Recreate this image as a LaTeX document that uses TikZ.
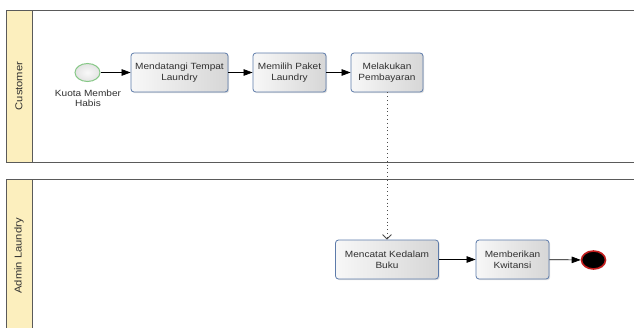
\documentclass[tikz,border=0pt]{standalone}
\usepackage{fontspec}
\setmainfont{Liberation Sans}[FakeStretch=1.12]
\usetikzlibrary{arrows.meta,shadows,shapes.geometric}
\definecolor{laneband}{HTML}{FCEFBE}
\definecolor{poolline}{HTML}{5A5A5A}
\definecolor{taskline}{HTML}{5D7BAA}
\definecolor{txt}{HTML}{303030}
\definecolor{startline}{HTML}{86C886}
\definecolor{endline}{HTML}{C41E1E}
\tikzset{
  task/.style={rectangle, rounded corners=3pt, draw=taskline, line width=0.8pt,
    left color=gray!6, right color=gray!32, minimum height=39pt,
    align=center, text=txt, font=\fontsize{9}{11}\selectfont,
    drop shadow={shadow xshift=1.2pt, shadow yshift=-1.2pt, opacity=0.25}},
  startev/.style={ellipse, draw=startline, line width=1pt, inner color=gray!5,
    outer color=gray!22, minimum width=25pt, minimum height=18pt, inner sep=0pt},
  endev/.style={ellipse, draw=endline, line width=1.6pt, fill=black,
    minimum width=24pt, minimum height=18pt, inner sep=0pt,
    drop shadow={shadow xshift=0.8pt, shadow yshift=-0.8pt, opacity=0.25}},
  flow/.style={draw=black, line width=0.7pt, -{Triangle[length=9pt,width=6.5pt]}},
  assoc/.style={draw=gray!60!black, line width=1pt, dash pattern=on 1pt off 2.8pt,
    -{Straight Barb[length=4.5pt,width=9pt,line width=0.8pt]}},
  pool/.style={draw=poolline, line width=1pt},
  band/.style={draw=poolline, line width=1pt, fill=laneband},
  lanetxt/.style={rotate=90, text=txt, font=\fontsize{10}{12}\selectfont},
  evtxt/.style={align=center, text=txt, font=\fontsize{9}{10}\selectfont},
}
\begin{document}
\begin{tikzpicture}[x=1pt, y=-1pt]
\clip (0,0) rectangle (634,327);
\fill[white] (0,0) rectangle (634,327);

% pools with their name bands
\draw[pool] (6,10) rectangle (660,162);
\draw[band] (6,10) rectangle (32,162);
\draw[pool] (6,179) rectangle (660,345);
\draw[band] (6,179) rectangle (32,345);
\node[lanetxt] (laneC) at (19,86) {Customer};
\node[lanetxt] (laneA) at (19,256) {Admin Laundry};

% customer lane
\node[startev] (start) at (87.5,72.5) {};
\node[evtxt] (startlbl) at (88,98) {Kuota Member\\Habis};
\node[task, minimum width=97pt] (t1) at (179.5,72.5) {Mendatangi Tempat\\Laundry};
\node[task, minimum width=73pt] (t2) at (289.5,72.5) {Memilih Paket\\Laundry};
\node[task, minimum width=72pt] (t3) at (387,72.5) {Melakukan\\Pembayaran};

% admin lane
\node[task, minimum width=103pt] (t4) at (387,259.5) {Mencatat Kedalam\\Buku};
\node[task, minimum width=73pt] (t5) at (512.5,259.5) {Memberikan\\Kwitansi};
\node[endev] (end) at (593.5,260) {};

% sequence flows
\draw[flow] (start) -- (t1);
\draw[flow] (t1) -- (t2);
\draw[flow] (t2) -- (t3);
\draw[flow] (t4) -- (t5);
\draw[flow] (t5) -- (end);

% association between lanes
\draw[assoc] (t3.south) -- (t4.north);
\end{tikzpicture}
\end{document}
